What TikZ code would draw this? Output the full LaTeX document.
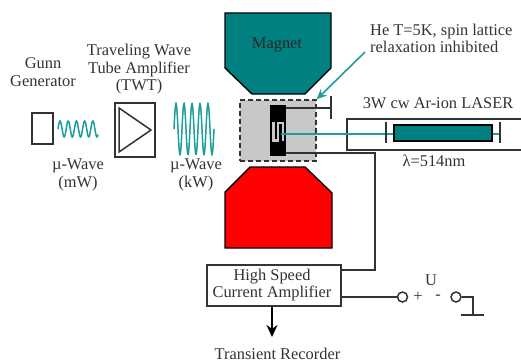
\documentclass[tikz,border=0pt]{standalone}
\usepackage{fontspec}
\usepackage{tikz}
\usetikzlibrary{arrows.meta}
\setmainfont{Liberation Serif}
\definecolor{tealfill}{HTML}{008080}
\definecolor{tealline}{HTML}{1F9C9C}
\definecolor{inkgray}{HTML}{333333}
\definecolor{samplegray}{HTML}{C8C8C8}
\tikzset{
	label/.style={inner sep=0pt, align=center, font=\fontsize{16.4}{17.5}\selectfont, text=inkgray},
	box/.style={draw=inkgray, line width=1.5pt, fill=white, inner sep=0pt},
	terminal/.style={circle, draw=inkgray, line width=1.5pt, fill=white, minimum size=10pt, inner sep=0pt},
	wire/.style={draw=inkgray, line width=1.5pt},
	beam/.style={draw=tealline, line width=2pt},
	wave/.style={draw=tealline, line width=1.5pt, smooth, samples=120}
}
\begin{document}
\begin{tikzpicture}[x=1pt, y=-1pt]
	\useasboundingbox (0,0) rectangle (521,362);
	% magnets
	\draw[fill=tealfill, line width=1.4pt] (225,13) -- (331,13) -- (331,68) -- (305,94) -- (252,94) -- (225,68) -- cycle;
	\draw[fill=red, line width=1.4pt] (250,167) -- (305,167) -- (332,193) -- (332,248) -- (225,248) -- (225,192) -- cycle;
	\node[label, text=black!85] (magnet) at (277,45) {Magnet};
	% sample
	\node[draw=inkgray, fill=samplegray, dash pattern=on 5pt off 3pt, line width=1.5pt, minimum width=76pt, minimum height=61pt, inner sep=0pt] (sample) at (278,130.5) {};
	\node[fill=black, minimum width=16pt, minimum height=51pt, inner sep=0pt] (chip) at (278,130.5) {};
	\draw[samplegray, line width=2.4pt] (273.5,122) -- (273.5,140.5) -- (278,140.5) -- (278,123) -- (283,123) -- (283,141);
	% laser
	\node[box, minimum width=180pt, minimum height=31pt] (laser) at (437,134.5) {};
	\coordinate (mirrorR) at (500,134);
	\coordinate (spot) at (281,134);
	\draw[beam] (spot) -- (mirrorR);
	\node[draw=black, fill=tealfill, line width=1.4pt, minimum width=98pt, minimum height=16pt, inner sep=0pt] (tube) at (443,133) {};
	\draw[wire] (386,122) -- (386,143);
	\draw[wire] (500,122) -- (500,143);
	% gate and drain lines
	\node[box, minimum width=134pt, minimum height=41pt] (amplifier) at (274,285.5) {};
	\coordinate (gate) at (331,108);
	\coordinate (bend) at (375,153);
	\draw[wire] (chip.east |- gate) -- (gate);
	\draw[wire] (331,96) -- (331,119);
	\draw[wire] (chip.east |- bend) -- (bend) -- (bend |- 0,270) -- (amplifier.east |- 0,270);
	% microwave part
	\node[box, minimum width=21pt, minimum height=31pt] (gunn) at (42.5,128.5) {};
	\node[box, line width=1.9pt, minimum width=40pt, minimum height=54pt] (twt) at (135,130) {};
	\draw[wire] (119,108) -- (151,130) -- (119,152) -- cycle;
	\draw[wave, domain=58:98] plot (\x, {129-8*sin(360*(\x-58)/8.2)});
	\draw[wave, domain=174:214] plot (\x, {129-25.5*sin(360*(\x-174)/8)});
	% output
	\node[terminal] (plus) at (402.5,297) {};
	\node[terminal] (minus) at (456,297) {};
	\coordinate (groundtop) at (473,297);
	\coordinate (ground) at (473,315);
	\draw[wire] (amplifier.east |- plus) -- (plus);
	\draw[wire] (minus) -- (groundtop) -- (ground);
	\draw[wire] (461,315) -- (484,315);
	\node[label] (recorder) at (277.5,353.5) {Transient Recorder};
	\coordinate (arrowtip) at (272,337);
	\draw[-{Stealth[length=12pt, width=11pt]}, line width=1.6pt] (amplifier.south -| arrowtip) -- (arrowtip);
	% teal arrow
	\coordinate (arrowstart) at (365,52);
	\draw[beam, line width=1.6pt, -{Stealth[length=10pt, width=9pt]}] (arrowstart) -- (sample.north east);
	% labels
	\node[label] (gunnlabel) at (43,72) {Gunn\\Generator};
	\node[label] (twtlabel) at (139,69.5) {Traveling Wave\\Tube Amplifier\\(TWT)};
	\node[label] (mwlabel) at (78,175) {µ-Wave\\(mW)};
	\node[label] (kwlabel) at (196,175) {µ-Wave\\(kW)};
	\node[label, align=left, anchor=west] (helabel) at (370,38.5) {He T=5K, spin lattice\\relaxation inhibited};
	\node[label] (laserlabel) at (438,103) {3W cw Ar-ion LASER};
	\node[label] (lambdalabel) at (434,161) {λ=514nm};
	\node[label] (amplabel) at (272,285) {High Speed\\Current Amplifier};
	\node[label] (ulabel) at (431,280) {U};
	\node[label] (pluslabel) at (418,297) {+};
	\node[label] (minuslabel) at (438,297) {-};
\end{tikzpicture}
\end{document}
